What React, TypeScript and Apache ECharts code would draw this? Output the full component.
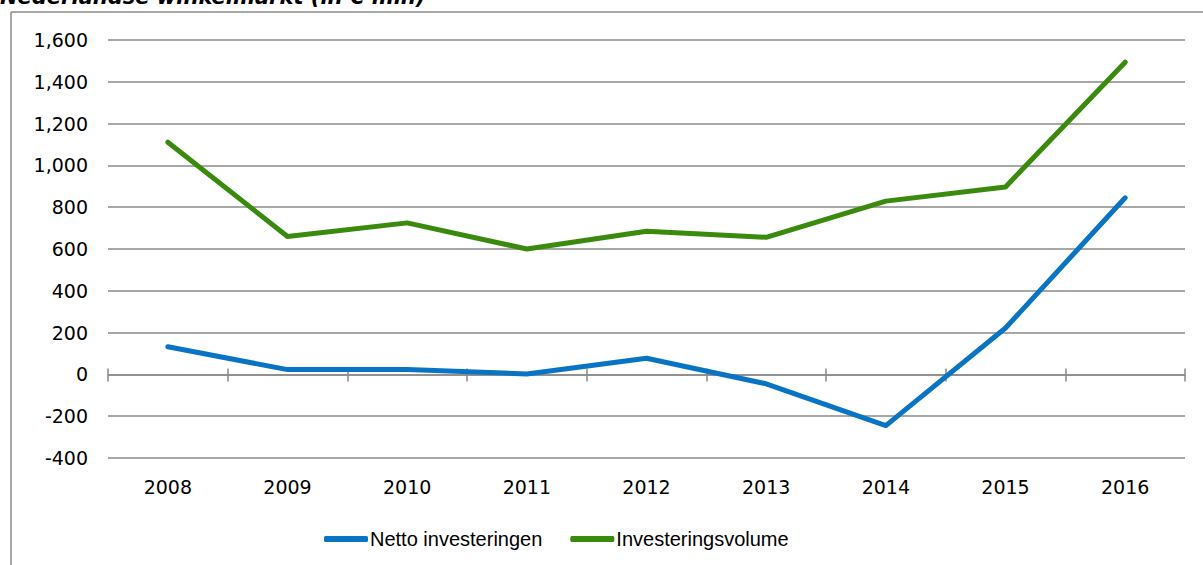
import React, { useEffect, useRef } from "react";
import * as echarts from "echarts";

const years = ["2008", "2009", "2010", "2011", "2012", "2013", "2014", "2015", "2016"];
const nettoInvesteringen = [132, 23, 23, 2, 77, -45, -245, 222, 845];
const investeringsvolume = [1111, 660, 725, 600, 685, 656, 829, 897, 1494];
const yMin = -400;
const yMax = 1600;
const yInterval = 200;
const titleText = "Nederlandse winkelmarkt (in € mln)";

const grey = "#8a8a8a";
const blue = "#0a74c4";
const green = "#3a8a0e";

const gridTop = 40;
const gridBottom = 107;
const plotHeight = 565 - gridTop - gridBottom;
const zeroOffset = -(plotHeight * (0 - yMin)) / (yMax - yMin);

export default function App() {
  const ref = useRef<HTMLDivElement>(null);
  useEffect(() => {
    if (!ref.current) return;
    const chart = echarts.init(ref.current, undefined, { renderer: "svg" });
    const axisFont = { fontFamily: "DejaVu Sans", fontSize: 19, color: "#000" };
    chart.setOption({
      animation: false,
      grid: { left: 108, right: 18, top: gridTop, bottom: gridBottom, containLabel: false },
      graphic: [
        {
          type: "line",
          shape: { x1: 11, y1: 12, x2: 11, y2: 565 },
          style: { stroke: grey, lineWidth: 1.5 },
        },
        {
          type: "line",
          shape: { x1: 11, y1: 12, x2: 1203, y2: 12 },
          style: { stroke: grey, lineWidth: 1.5 },
        },
        {
          type: "text",
          left: 0,
          top: -14,
          style: {
            text: titleText,
            font: "italic bold 21px 'DejaVu Sans'",
            fill: "#000",
          },
        },
      ],
      legend: {
        left: 319,
        top: 524,
        itemWidth: 44,
        itemHeight: 6,
        itemGap: 28,
        textStyle: { fontFamily: "Liberation Sans", fontSize: 20, color: "#000", padding: [0, 0, 0, -3] },
        data: [
          { name: "Netto investeringen", icon: "roundRect", itemStyle: { color: blue } },
          { name: "Investeringsvolume", icon: "roundRect", itemStyle: { color: green } },
        ],
      },
      xAxis: [
        {
          type: "category",
          data: years,
          position: "bottom",
          boundaryGap: true,
          axisLine: { show: false, onZero: false },
          axisTick: { show: false },
          axisLabel: { ...axisFont, margin: 19 },
          splitLine: { show: false },
        },
        {
          type: "category",
          data: years,
          position: "bottom",
          offset: zeroOffset,
          boundaryGap: true,
          axisLine: { show: true, onZero: false, lineStyle: { color: grey, width: 1.5 } },
          axisTick: { show: true, length: 7, lineStyle: { color: grey, width: 1.5 } },
          axisLabel: { show: false },
          splitLine: { show: false },
        },
        {
          type: "category",
          data: years,
          position: "bottom",
          offset: zeroOffset,
          boundaryGap: true,
          axisLine: { show: false, onZero: false },
          axisTick: { show: true, inside: true, length: 6, lineStyle: { color: grey, width: 1.5 } },
          axisLabel: { show: false },
          splitLine: { show: false },
        },
      ],
      yAxis: {
        type: "value",
        min: yMin,
        max: yMax,
        interval: yInterval,
        axisLine: { show: false },
        axisTick: { show: false },
        axisLabel: {
          ...axisFont,
          margin: 20,
          formatter: (v: number) => {
            const s = Math.abs(v).toString().replace(/\B(?=(\d{3})+(?!\d))/g, ",");
            return v < 0 ? "-" + s : s;
          },
        },
        splitLine: { show: true, lineStyle: { color: grey, width: 1.5 } },
      },
      series: [
        {
          name: "Netto investeringen",
          type: "line",
          xAxisIndex: 0,
          data: nettoInvesteringen,
          symbol: "none",
          color: blue,
          lineStyle: { color: blue, width: 5, cap: "round", join: "round" },
          z: 5,
        },
        {
          name: "Investeringsvolume",
          type: "line",
          xAxisIndex: 0,
          data: investeringsvolume,
          symbol: "none",
          color: green,
          lineStyle: { color: green, width: 5, cap: "round", join: "round" },
          z: 5,
        },
      ],
    });
    return () => chart.dispose();
  }, []);
  return (
    <div
      ref={ref}
      style={{ position: "fixed", left: 0, top: 0, width: 1203, height: 565, background: "#fff" }}
    />
  );
}
